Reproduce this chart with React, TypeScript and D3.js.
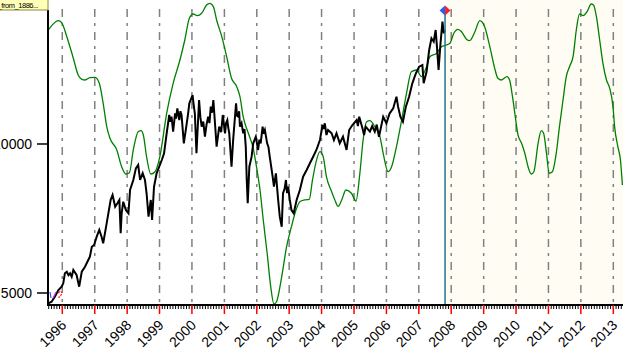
import React from "react";
import * as d3 from "d3";

// Dow Jones index (decimal year, value)
const dowT = [1995.57,1995.67,1995.77,1995.88,1995.98,1996.03,1996.08,1996.14,1996.19,1996.24,1996.29,1996.34,1996.44,1996.52,1996.60,1996.70,1996.80,1996.85,1996.91,1996.98,1997.06,1997.14,1997.21,1997.26,1997.35,1997.42,1997.49,1997.55,1997.63,1997.70,1997.76,1997.80,1997.83,1997.88,1997.96,1998.04,1998.09,1998.19,1998.27,1998.34,1998.40,1998.48,1998.55,1998.60,1998.66,1998.73,1998.77,1998.83,1998.91,1998.99,1999.07,1999.14,1999.22,1999.30,1999.33,1999.37,1999.42,1999.48,1999.51,1999.55,1999.61,1999.645,1999.68,1999.75,1999.84,1999.88,1999.92,2000.02,2000.05,2000.09,2000.14,2000.22,2000.26,2000.30,2000.35,2000.40,2000.45,2000.50,2000.54,2000.58,2000.62,2000.66,2000.71,2000.76,2000.84,2000.90,2000.95,2001.02,2001.05,2001.09,2001.12,2001.15,2001.22,2001.27,2001.36,2001.39,2001.43,2001.455,2001.48,2001.53,2001.58,2001.62,2001.66,2001.69,2001.72,2001.77,2001.84,2001.89,2001.97,2002.04,2002.08,2002.12,2002.18,2002.21,2002.25,2002.32,2002.36,2002.40,2002.49,2002.53,2002.59,2002.66,2002.71,2002.77,2002.81,2002.86,2002.90,2002.935,2002.97,2003.02,2003.07,2003.14,2003.23,2003.33,2003.43,2003.54,2003.64,2003.74,2003.84,2003.95,2004.03,2004.06,2004.10,2004.15,2004.20,2004.31,2004.38,2004.46,2004.56,2004.66,2004.77,2004.85,2004.95,2005.08,2005.12,2005.16,2005.26,2005.31,2005.36,2005.49,2005.56,2005.64,2005.70,2005.77,2005.90,2006.00,2006.10,2006.21,2006.31,2006.36,2006.43,2006.51,2006.60,2006.70,2006.80,2006.91,2007.01,2007.11,2007.15,2007.24,2007.32,2007.39,2007.46,2007.52,2007.56,2007.61,2007.67,2007.73,2007.77,2007.80];
const dowV = [4654,4708,4875,5100,5211,5325,5661,5714,5600,5661,5547,5771,5604,5211,5714,5882,6107,6218,6553,6610,6889,7114,6889,6668,7225,7674,8121,8288,7896,8010,8121,7003,7674,8064,7785,7674,8456,8792,9184,9295,8792,9017,8792,8346,7560,8121,7449,8567,9017,9238,9463,9688,10359,10973,10750,10916,10413,11030,10850,11198,10805,11100,10973,10023,10695,11000,11366,11644,11350,11030,9688,11477,10900,10581,10750,10245,10650,10916,10700,11252,11050,11477,10695,9909,10581,10400,10973,10359,10700,10805,10550,10359,9238,10134,11366,10950,10916,11100,10581,10700,10359,10500,9909,8792,8010,9238,9574,10023,10245,9799,10150,10023,10581,10350,10470,10023,9900,9574,8903,8567,9017,8121,7560,7225,8346,8500,8792,8350,8567,8121,7785,7674,8121,8456,8903,9127,9352,9574,9799,10134,10638,10500,10695,10300,10470,10359,10134,10359,10023,10245,9799,10470,10638,10805,10600,10916,10527,10300,10581,10413,10600,10413,10650,10245,10916,10695,11030,11198,11587,11252,10916,10748,11252,11587,12037,12373,12594,12651,12037,12426,13155,13547,13433,13826,13265,12483,13379,14104,13715,13826];

// Cycle projection (decimal year, value)
const cycleT = [1995.57,1995.88,1995.98,1996.14,1996.34,1996.49,1996.60,1996.70,1996.85,1997.01,1997.14,1997.26,1997.37,1997.47,1997.68,1997.83,1997.96,1998.07,1998.19,1998.34,1998.43,1998.50,1998.60,1998.73,1998.86,1999.01,1999.22,1999.42,1999.63,1999.78,1999.92,2000.04,2000.16,2000.30,2000.45,2000.55,2000.66,2000.76,2000.92,2001.07,2001.22,2001.38,2001.48,2001.58,2001.74,2001.89,2001.99,2002.10,2002.20,2002.32,2002.43,2002.53,2002.61,2002.77,2002.92,2003.07,2003.21,2003.33,2003.48,2003.62,2003.72,2003.82,2003.95,2004.05,2004.15,2004.31,2004.41,2004.51,2004.62,2004.75,2004.92,2005.06,2005.18,2005.28,2005.39,2005.49,2005.64,2005.80,2005.90,2006.05,2006.16,2006.31,2006.47,2006.62,2006.77,2006.93,2007.08,2007.24,2007.34,2007.55,2007.70,2007.85,2007.96,2008.08,2008.21,2008.32,2008.47,2008.57,2008.73,2008.88,2009.03,2009.19,2009.34,2009.44,2009.55,2009.72,2009.80,2009.89,2009.99,2010.06,2010.17,2010.27,2010.37,2010.47,2010.55,2010.68,2010.78,2010.85,2010.94,2011.02,2011.12,2011.24,2011.34,2011.45,2011.55,2011.65,2011.76,2011.86,2011.96,2012.07,2012.19,2012.32,2012.39,2012.48,2012.58,2012.68,2012.79,2012.89,2012.99,2013.04,2013.14,2013.22,2013.28];
const cycleV = [13826,14138,14071,13601,12876,12316,12171,12148,12225,12238,12037,11366,10581,10191,9799,9238,8993,9037,9799,10413,10446,10302,9574,8993,9070,9574,11030,12037,12819,13490,14218,14363,14306,14386,14665,14722,14608,14161,13601,12930,12205,11923,11587,10916,10359,9856,9238,8456,7449,6332,5211,4630,4708,5547,6553,7225,7785,8064,8121,8144,8792,9352,9742,9574,8903,8399,8121,7909,8121,8456,8346,8087,9017,10134,10748,10782,10581,10245,9688,9070,9238,9909,10805,11701,12426,12483,12259,12594,12930,13044,13265,13322,13379,13715,13849,13769,13514,13467,13769,14138,13937,13265,12540,12205,12148,12259,12148,11587,10805,10302,10023,9688,9238,8993,9070,10023,10446,10359,9688,9017,9070,9688,10581,11477,12259,12594,12930,13826,14363,14306,14440,14698,14665,14272,13490,12708,12148,11869,11252,10581,9909,9463,8624];

const yTicks = [5000, 10000];
const xDomainYears = [1995.559, 2013.299];
const yDomain = [4597, 14832];
const markerYear = 2007.81;
const markerValue = 14480;
const legendText = "Dow_from_1886...";

function toDate(y: number): Date {
  const yr = Math.floor(y);
  const a = Date.UTC(yr, 0, 1);
  const b = Date.UTC(yr + 1, 0, 1);
  return new Date(a + (y - yr) * (b - a));
}

export default function App() {
  const W = 623, H = 355;
  const left = 48, right = 623, top = 0, bottom = 305;
  const x = d3.scaleUtc().domain(xDomainYears.map(toDate)).range([left, right]);
  const y = d3.scaleLinear().domain(yDomain).range([bottom, top]);
  const years = d3.utcYear.range(x.domain()[0], x.domain()[1]);
  const months = d3.utcMonth.range(x.domain()[0], x.domain()[1]);

  const dowLine = d3.line<number>()
    .x((_, i) => x(toDate(dowT[i])))
    .y((v) => y(v));
  const cycleLine = d3.line<number>()
    .x((_, i) => x(toDate(cycleT[i])))
    .y((v) => y(v))
    .curve(d3.curveMonotoneX);

  const mx = x(toDate(markerYear));
  const my = y(markerValue);
  const font = "'Liberation Sans', Arial, sans-serif";

  return (
    <svg width={W} height={H} style={{ position: "absolute", left: 0, top: 0, background: "#fff" }}>
      <rect x={mx + 1} y={0} width={right - mx} height={bottom} fill="#FFFDF3" />
      {years.map((d, i) => (
        <line key={"g" + i} x1={x(d)} x2={x(d)} y1={9} y2={bottom} stroke="#808080" strokeWidth={1.5} strokeDasharray="8,6,3,6" />
      ))}
      <path d={cycleLine(cycleV) || ""} fill="none" stroke="#008000" strokeWidth={1.3} />
      <path d={dowLine(dowV) || ""} fill="none" stroke="#000" strokeWidth={2} strokeLinejoin="miter" />
      <line x1={mx} x2={mx} y1={my} y2={bottom} stroke="#1f7585" strokeWidth={1.5} />
      <path d={`M${mx - 5.5},${my} L${mx},${my - 5} L${mx},${my + 5} Z`} fill="#2060ff" />
      <path d={`M${mx + 5.5},${my} L${mx},${my - 5} L${mx},${my + 5} Z`} fill="#ff2020" />
      {/* axes */}
      <line x1={left} x2={left} y1={10} y2={bottom + 1} stroke="#000" strokeWidth={2} />
      <line x1={left} x2={right} y1={bottom} y2={bottom} stroke="#000" strokeWidth={2} />
      {months.map((d, i) => (
        <line key={"m" + i} x1={x(d)} x2={x(d)} y1={bottom} y2={bottom + 4} stroke="#000" strokeWidth={1} />
      ))}
      {years.map((d, i) => (
        <line key={"t" + i} x1={x(d)} x2={x(d)} y1={bottom} y2={bottom + 9} stroke="#ff0000" strokeWidth={1.5} />
      ))}
      {years.map((d, i) => (
        <text key={"l" + i} transform={`translate(${x(d) + 5},${bottom + 21}) rotate(-45)`} textAnchor="end" fontFamily={font} fontSize={14} fill="#000">
          {d.getUTCFullYear()}
        </text>
      ))}
      {yTicks.map((v, i) => (
        <g key={"y" + i}>
          <line x1={37} x2={left} y1={y(v)} y2={y(v)} stroke="#000" strokeWidth={1.5} />
          <text x={32} y={y(v) + 5} textAnchor="end" fontFamily={font} fontSize={14} fill="#000">{v}</text>
        </g>
      ))}
      {/* small markers at start */}
      <path d="M50,292 L51,298" stroke="#3050ff" strokeWidth={1.2} fill="none" />
      <path d="M53,298 L56,292" stroke="#b040ff" strokeWidth={1.2} fill="none" />
      <path d="M58,293 Q61,290 62,293 Q61,296 59,297 L59,299" stroke="#ff2020" strokeWidth={1.2} fill="none" strokeDasharray="2,1" />
      {/* legend box */}
      <rect x={-1} y={-1} width={49} height={11} fill="#FFFFB8" stroke="#8a8a40" strokeWidth={1} />
      <text x={38} y={8} textAnchor="end" fontFamily={font} fontSize={7.5} letterSpacing={-0.45} fill="#000">{legendText}</text>
    </svg>
  );
}
